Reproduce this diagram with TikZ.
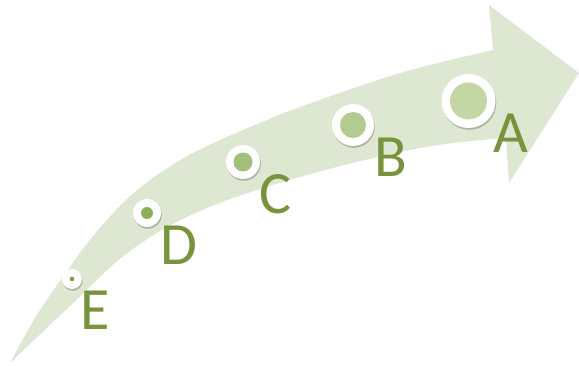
\documentclass[tikz,border=0pt]{standalone}
\usepackage{fontspec}
\setmainfont{Carlito}
\usetikzlibrary{shadows}
\definecolor{arrowfill}{HTML}{DEE7D2}
\definecolor{lettercol}{HTML}{77933C}
\definecolor{dotE}{HTML}{73A03C}
\definecolor{dotD}{HTML}{8BAF57}
\definecolor{dotC}{HTML}{A2BF78}
\definecolor{dotB}{HTML}{B3CB8E}
\definecolor{dotA}{HTML}{C3D6A4}
\tikzset{
  x=1pt,y=-1pt,
  ring/.style={circle, fill=white, inner sep=0pt, minimum size=#1,
    drop shadow={shadow xshift=0.8pt, shadow yshift=-1.8pt, fill=black, opacity=0.22}},
  dot/.style={circle, inner sep=0pt, minimum size=#1},
  letter/.style={text=lettercol, inner sep=0pt, anchor=base, font=\fontsize{60}{60}\selectfont}
}
\begin{document}
\begin{tikzpicture}
\useasboundingbox (0,0) rectangle (579,366);
% big curved arrow
\fill[arrowfill] (10,363)
  -- plot[smooth, tension=0.55] coordinates {(10,363) (35,318) (62,278) (93,236) (127,199) (160,173) (193,153) (227,137) (260,123) (300,107) (400,73) (493,50)}
  -- (489,5) -- (579,73) -- (509,183) -- (506,138)
  -- plot[smooth, tension=0.6] coordinates {(506,138) (420,148) (300,177) (200,211) (130,251) (70,306) (10,363)}
  -- cycle;
% circles
\node[ring=20pt] (rE) at (72,279) {};
\node[dot=4.6pt, fill=dotE] (dE) at (rE) {};
\node[ring=28pt] (rD) at (147,213) {};
\node[dot=12pt, fill=dotD] (dD) at (rD) {};
\node[ring=34pt] (rC) at (243,162) {};
\node[dot=19pt, fill=dotC] (dC) at (rC) {};
\node[ring=42pt] (rB) at (353,125) {};
\node[dot=26pt, fill=dotB] (dB) at (rB) {};
\node[ring=54pt] (rA) at (468.5,101) {};
\node[dot=37pt, fill=dotA] (dA) at (rA) {};
% letters
\node[letter] (lE) at (95,330) {E};
\node[letter] (lD) at (179,265) {D};
\node[letter] (lC) at (275,214) {C};
\node[letter] (lB) at (391,177) {B};
\node[letter] (lA) at (511,153) {A};
\end{tikzpicture}
\end{document}
